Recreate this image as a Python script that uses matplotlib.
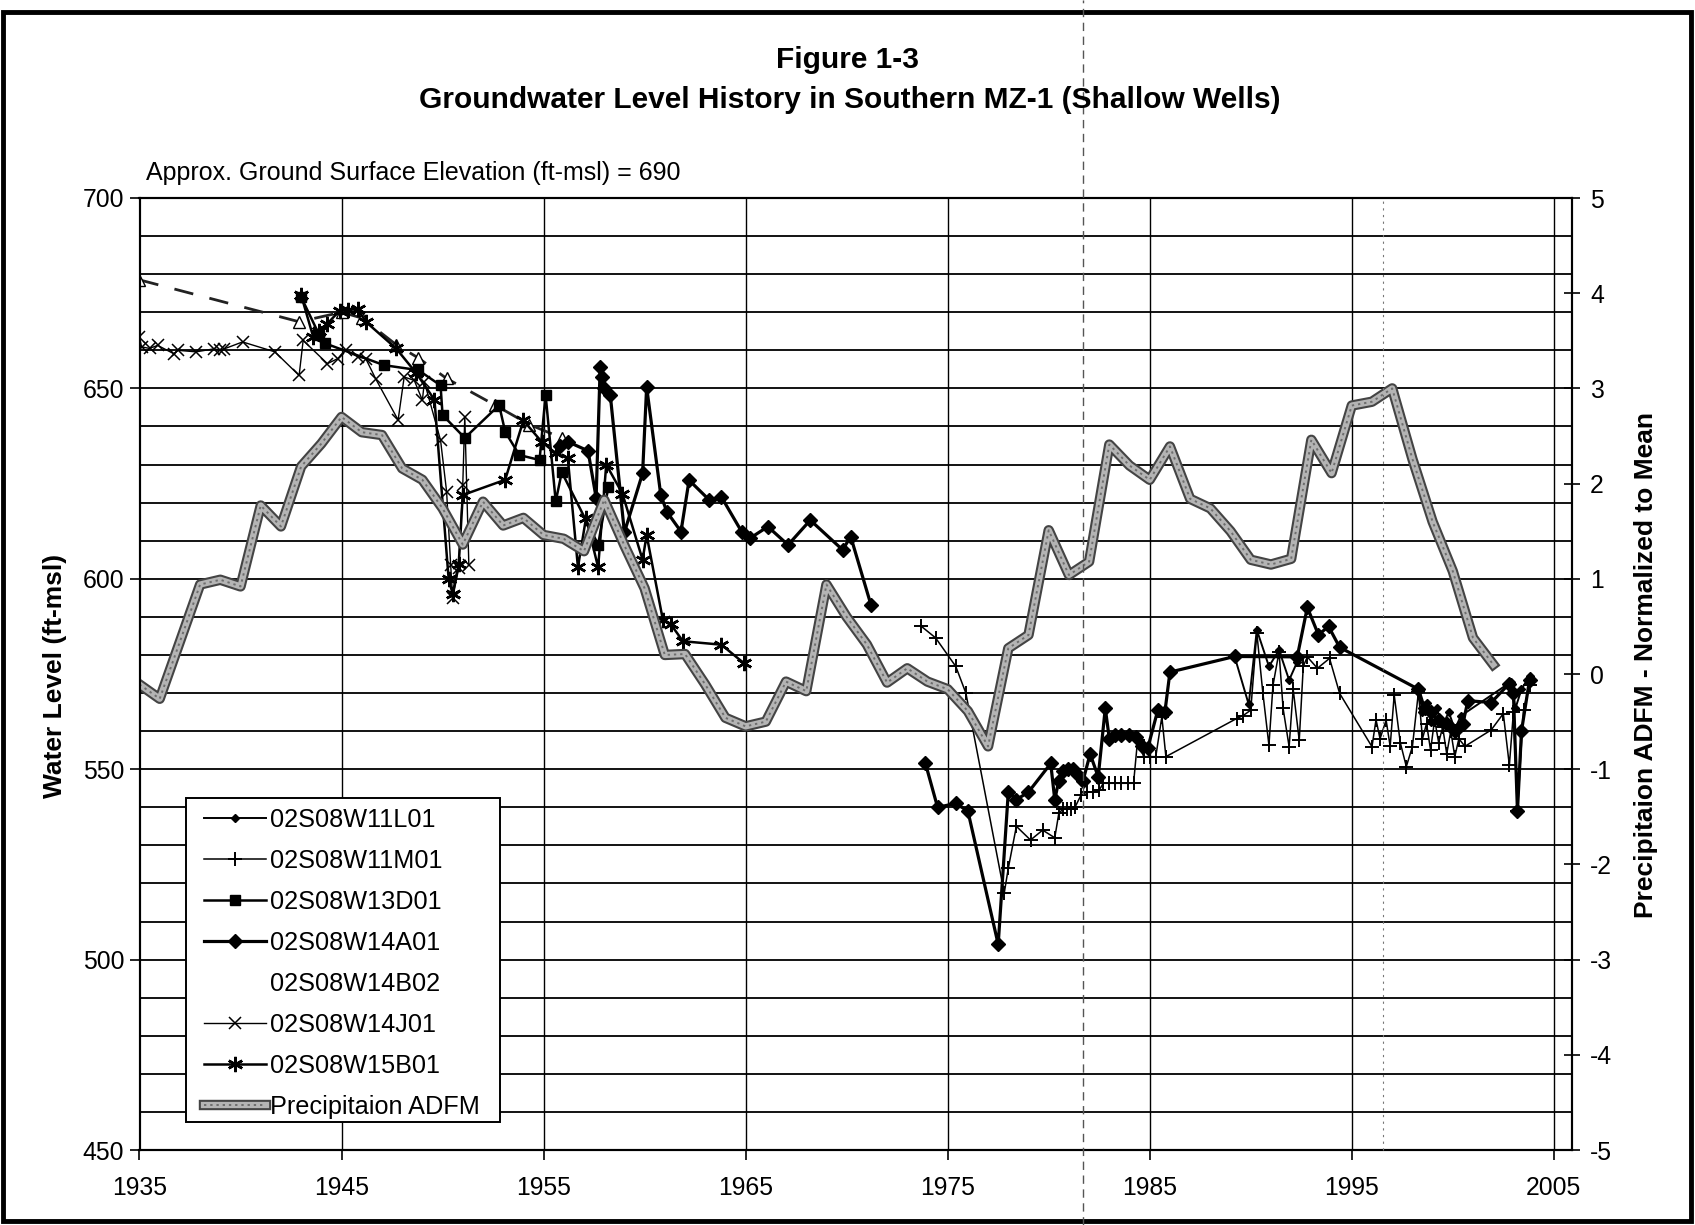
import numpy as np
import matplotlib
matplotlib.use("Agg")
import matplotlib.pyplot as plt
from matplotlib.lines import Line2D
from matplotlib.patches import Rectangle
import matplotlib.patheffects as pe

plt.rcParams['font.family'] = ['Liberation Sans', 'DejaVu Sans']
plt.rcParams['axes.unicode_minus'] = False

nan = float('nan')

# ---------------- data ----------------
PRECIP_YEARS = list(range(1935, 2003))
PRECIP_ADFM = [-0.11, -0.26, 0.34, 0.94, 0.99, 0.92, 1.77, 1.55, 2.18, 2.42,
               2.70, 2.54, 2.51, 2.16, 2.04, 1.74, 1.36, 1.81, 1.56, 1.64,
               1.46, 1.42, 1.29, 1.83, 1.35, 0.90, 0.20, 0.21, -0.11, -0.46,
               -0.55, -0.50, -0.08, -0.18, 0.94, 0.60, 0.31, -0.09, 0.06, -0.08,
               -0.16, -0.39, -0.76, 0.27, 0.41, 1.51, 1.04, 1.18, 2.41, 2.19,
               2.04, 2.39, 1.84, 1.74, 1.50, 1.20, 1.15, 1.21, 2.46, 2.11,
               2.82, 2.86, 3.00, 2.26, 1.60, 1.08, 0.38, 0.10]

W11L01_T = [1989.2, 1989.9, 1990.3, 1990.9, 1991.4, 1991.9, 1992.3, 1995.0,
            1998.3, 1998.5, 1998.7, 1998.9, 1999.2, 1999.5, 1999.8, 2000.1, 2000.4,
            2002.9, 2003.1, 2003.4, 2003.8]
W11L01_V = [579.6, 567.0, 586.6, 577.0, 581.3, 573.4, 578.2, nan,
            571.0, 565.0, 567.5, 562.5, 566.0, 561.5, 565.0, 560.5, 564.0,
            573.0, 566.0, 571.0, 574.5]

W11M01_T = [1973.7, 1974.4, 1975.4, 1975.9, 1977.8, 1978.0, 1978.4, 1979.1, 1979.7, 1980.3,
            1980.5, 1980.7, 1980.9, 1981.1, 1981.3, 1981.6, 1981.9, 1982.2, 1982.5, 1982.7,
            1983.0, 1983.3, 1983.6, 1983.9, 1984.2, 1984.4, 1984.7, 1985.0, 1985.3, 1985.6,
            1985.8, 1989.3, 1989.6, 1990.0, 1990.3, 1990.6, 1990.9, 1991.1, 1991.4, 1991.6,
            1991.9, 1992.1, 1992.4, 1992.6, 1992.8, 1993.3, 1993.9, 1994.4, 1996.0, 1996.2,
            1996.4, 1996.7, 1996.9, 1997.1, 1997.4, 1997.7, 1998.0, 1998.3, 1998.5, 1998.7,
            1998.9, 1999.1, 1999.3, 1999.5, 1999.7, 1999.9, 2000.1, 2000.3, 2000.6, 2001.9,
            2002.5, 2002.8, 2003.0, 2003.2, 2003.5, 2003.8]
W11M01_V = [587.5, 584.5, 577.0, 570.0, 517.5, 524.0, 535.0, 531.4, 534.0, 532.0,
            538.4, 539.5, 539.5, 539.5, 540.0, 543.2, 544.0, 544.0, 544.5, 546.3,
            546.3, 546.3, 546.3, 546.3, 546.3, 557.7, 553.3, 553.3, 553.3, 563.8,
            553.3, 563.3, 564.0, 565.5, 585.8, 570.0, 556.3, 572.0, 580.8, 566.0,
            555.9, 571.0, 557.6, 577.0, 579.5, 576.5, 579.1, 569.9, 555.9, 563.0,
            558.0, 562.9, 556.0, 569.5, 557.0, 550.7, 555.9, 570.3, 558.0, 562.0,
            555.0, 563.0, 557.0, 561.0, 554.0, 560.0, 553.3, 558.0, 556.0, 560.3,
            564.6, 551.0, 565.0, 538.9, 565.5, 572.0]

W13D01_T = [1943.0, 1943.9, 1944.2, 1947.1, 1948.8, 1949.9, 1950.0, 1951.1, 1952.8,
            1953.1, 1953.8, 1954.8, 1955.1, 1955.6, 1955.9, 1957.7, 1958.2]
W13D01_V = [674.0, 664.0, 661.8, 656.1, 654.8, 650.8, 643.0, 637.0, 645.6,
            638.6, 632.5, 631.2, 648.3, 620.3, 628.0, 609.0, 624.0]

W14A01_T = [1955.8, 1956.2, 1957.2, 1957.6, 1957.8, 1957.9, 1958.0, 1958.3, 1959.0, 1959.9,
            1960.1, 1960.8, 1961.1, 1961.8, 1962.2, 1963.2, 1963.8, 1964.8, 1965.2, 1966.1,
            1967.1, 1968.2, 1969.8, 1970.2, 1971.2, 1972.5, 1973.9, 1974.5, 1975.4, 1976.0,
            1977.5, 1978.0, 1978.4, 1979.0, 1980.1, 1980.3, 1980.5, 1980.7, 1980.95, 1981.2,
            1981.45, 1981.7, 1982.05, 1982.45, 1982.8, 1983.0, 1983.3, 1983.6, 1983.95, 1984.3,
            1984.6, 1984.9, 1985.4, 1985.75, 1986.0, 1989.2, 1992.3, 1992.8, 1993.35, 1993.85,
            1994.4, 1998.3, 1998.6, 1998.9, 1999.3, 1999.7, 2000.1, 2000.5, 2000.75, 2001.9,
            2002.8, 2003.0, 2003.2, 2003.4, 2003.8]
W14A01_V = [635.0, 636.0, 633.6, 621.3, 655.5, 653.0, 650.0, 648.3, 612.2, 627.7,
            650.4, 622.0, 617.6, 612.4, 625.9, 620.7, 621.5, 612.4, 610.6, 613.7,
            608.9, 615.4, 607.6, 611.1, 593.2, nan, 551.5, 540.0, 541.0, 539.0,
            504.0, 544.0, 542.0, 544.0, 551.5, 542.0, 547.0, 549.5, 550.0, 550.0,
            548.5, 547.0, 554.0, 548.0, 566.0, 558.0, 559.0, 559.0, 559.0, 558.5,
            556.0, 555.5, 565.5, 565.0, 575.5, 579.6, 579.5, 592.5, 585.3, 587.5,
            582.0, 571.0, 566.0, 565.0, 563.0, 562.0, 560.0, 562.0, 568.0, 567.5,
            572.5, 570.0, 539.0, 560.0, 573.5]

W14B02_T = [1935.0, 1942.9, 1945.0, 1946.0, 1947.7, 1948.8, 1950.2, 1952.6, 1954.3, 1955.9]
W14B02_V = [678.5, 667.5, 670.0, 668.5, 661.5, 658.0, 652.6, 645.6, 640.5, 637.0]

W14J01_T = [1935.0, 1935.1, 1935.5, 1935.9, 1936.7, 1936.9, 1937.8, 1938.7, 1939.0, 1939.2,
            1940.1, 1941.7, 1942.9, 1943.1, 1944.3, 1944.8, 1945.2, 1945.8, 1946.2, 1946.7,
            1947.8, 1948.1, 1948.6, 1949.0, 1949.1, 1949.9, 1950.2, 1950.4, 1950.5, 1950.8,
            1951.0, 1951.1, 1951.3]
W14J01_V = [663.5, 660.9, 660.5, 661.3, 659.1, 660.0, 659.6, 660.4, 660.0, 660.4,
            662.2, 659.6, 653.4, 662.6, 656.5, 657.8, 660.0, 658.3, 657.8, 652.4,
            641.7, 653.0, 652.1, 646.9, 651.7, 636.4, 622.9, 603.7, 594.9, 602.8,
            624.7, 642.6, 603.7]

W15B01_T = [1943.0, 1943.6, 1943.9, 1944.3, 1944.9, 1945.3, 1945.8, 1946.2, 1947.7, 1948.7,
            1949.6, 1950.3, 1950.5, 1950.8, 1951.0, 1953.1, 1954.0, 1954.9, 1955.6, 1956.2,
            1956.7, 1957.1, 1957.7, 1958.1, 1958.9, 1959.9, 1960.1, 1960.9, 1961.3, 1961.9,
            1963.8, 1964.9]
W15B01_V = [674.5, 663.5, 665.0, 667.0, 670.4, 670.6, 670.8, 667.5, 660.5, 654.0,
            647.0, 600.0, 596.0, 604.0, 622.0, 626.0, 641.6, 636.0, 633.0, 631.6,
            603.0, 616.0, 603.0, 630.0, 622.4, 605.0, 611.5, 589.3, 588.0, 583.6,
            582.7, 577.9]

SERIES_LABELS = ['02S08W11L01', '02S08W11M01', '02S08W13D01', '02S08W14A01',
                 '02S08W14B02', '02S08W14J01', '02S08W15B01', 'Precipitaion ADFM']
X_TICKS = [1935, 1945, 1955, 1965, 1975, 1985, 1995, 2005]
LEFT_TICKS = [450, 500, 550, 600, 650, 700]
RIGHT_TICKS = [-5, -4, -3, -2, -1, 0, 1, 2, 3, 4, 5]

# ---------------- figure ----------------
W, H = 1695, 1225
fig = plt.figure(figsize=(W / 100, H / 100), dpi=100)
fig.patch.set_facecolor('white')

L, R, T, B = 139.5, 1572, 198, 1150
ax = fig.add_axes([L / W, 1 - B / H, (R - L) / W, (B - T) / H])
ax.set_xlim(1935, 2005.9)
ax.set_ylim(450, 700)
ax.set_xticks(X_TICKS)
ax.set_xticklabels([str(v) for v in X_TICKS])
ax.set_yticks(LEFT_TICKS)
ax.set_yticks(np.arange(450, 701, 10), minor=True)
ax.grid(True, which='both', axis='y', color='black', lw=1.3)
ax.grid(True, which='major', axis='x', color='black', lw=1.0)
ax.set_axisbelow(True)
ax.tick_params(axis='both', which='major', direction='out', length=7, width=1.2,
               labelsize=17.8, colors='black')
ax.tick_params(axis='x', pad=12)
ax.tick_params(axis='y', pad=4)
ax.tick_params(which='minor', length=0)
for s in ax.spines.values():
    s.set_linewidth(1.5)
    s.set_color('black')

ax2 = ax.twinx()
ax2.set_ylim(-5, 5)
ax2.set_yticks(RIGHT_TICKS)
ax2.set_yticklabels([str(v) for v in RIGHT_TICKS])
ax2.tick_params(axis='y', direction='inout', length=12, width=1.2, labelsize=17.8, pad=7)
for s in ax2.spines.values():
    s.set_linewidth(1.5)

# ---------------- series ----------------
ax.plot(W14B02_T, W14B02_V, color='#222222', lw=2.0, ls=(0, (7, 6)), zorder=3,
        marker='^', ms=8, mfc='white', mec='black', mew=1.0)
ax.plot(W14J01_T, W14J01_V, color='black', lw=1.0, marker='x', ms=8, mew=1.1, zorder=4)
ax.plot(W13D01_T, W13D01_V, color='black', lw=1.8, marker='s', ms=7, zorder=4)
ax.plot(W15B01_T, W15B01_V, color='black', lw=1.8, marker=(6, 2, 0), ms=11, mew=1.8, zorder=4)
ax.plot(W11M01_T, W11M01_V, color='black', lw=1.1, marker='+', ms=10, mew=1.4, zorder=4)
ax.plot(W11L01_T, W11L01_V, color='black', lw=1.4, marker='D', ms=4.5, zorder=4)
ax.plot(W14A01_T, W14A01_V, color='black', lw=2.3, marker='D', ms=7.5, zorder=5)

precip_line, = ax2.plot(PRECIP_YEARS, PRECIP_ADFM, color='#b4b4b4', lw=4.5, zorder=2,
                        solid_joinstyle='round',
                        path_effects=[pe.Stroke(linewidth=7.5, foreground='#444444'), pe.Normal()])
precip_tex, = ax2.plot(PRECIP_YEARS, PRECIP_ADFM, color='#6e6e6e', lw=1.4,
                       ls=(0, (1.2, 2.0)), zorder=2.1)

# ---------------- legend ----------------
handles = [
    Line2D([], [], color='black', lw=1.4, marker='D', ms=4.5),
    Line2D([], [], color='black', lw=1.1, marker='+', ms=10, mew=1.4),
    Line2D([], [], color='black', lw=1.8, marker='s', ms=7),
    Line2D([], [], color='black', lw=2.3, marker='D', ms=7.5),
    Line2D([], [], color='none'),
    Line2D([], [], color='black', lw=1.0, marker='x', ms=8, mew=1.1),
    Line2D([], [], color='black', lw=1.8, marker=(6, 2, 0), ms=11, mew=1.8),
    (precip_line, precip_tex),
]
pw, ph = R - L, B - T
box = Rectangle(((186 - L) / pw, (B - 1122) / ph), 314 / pw, 324 / ph,
                transform=ax2.transAxes, facecolor='white', edgecolor='black',
                lw=1.4, zorder=9)
ax2.add_patch(box)
leg = ax2.legend(handles, SERIES_LABELS, loc='upper left',
                 bbox_to_anchor=((204 - L) / pw, (B - 808) / ph),
                 borderaxespad=0, borderpad=0, frameon=False, fontsize=18.2,
                 handlelength=2.45, handletextpad=0.15, labelspacing=0.67)
leg.set_zorder(10)

# ---------------- text ----------------
fig.text(848 / W, 1 - 60 / H, 'Figure 1-3', fontsize=21.5, fontweight='bold',
         ha='center', va='center')
fig.text(850 / W, 1 - 100 / H, 'Groundwater Level History in Southern MZ-1 (Shallow Wells)',
         fontsize=21.5, fontweight='bold', ha='center', va='center')
fig.text(146 / W, 1 - 173 / H, 'Approx. Ground Surface Elevation (ft-msl) = 690',
         fontsize=18, ha='left', va='center')
fig.text(55 / W, 1 - 676 / H, 'Water Level (ft-msl)', fontsize=19, fontweight='bold',
         rotation=90, ha='center', va='center')
fig.text(1646 / W, 1 - 665 / H, 'Precipitaion ADFM - Normalized to Mean', fontsize=19,
         fontweight='bold', rotation=90, ha='center', va='center')

# page frame and scan fold
fig.add_artist(Rectangle((3 / W, 1 - 1221 / H), (1691 - 3) / W, (1221 - 12) / H,
                         transform=fig.transFigure, fill=False, lw=3.5, ec='black'))
fig.add_artist(Line2D([1083 / W, 1083 / W], [0, 1], transform=fig.transFigure,
                      color='#555555', lw=1.0, ls=(0, (6, 4))))
fig.add_artist(Line2D([1383 / W, 1383 / W], [1 - B / H, 1 - T / H], transform=fig.transFigure,
                      color='#777777', lw=0.8, ls=(0, (2, 4))))

fig.savefig('out.png', dpi=100, facecolor='white')
